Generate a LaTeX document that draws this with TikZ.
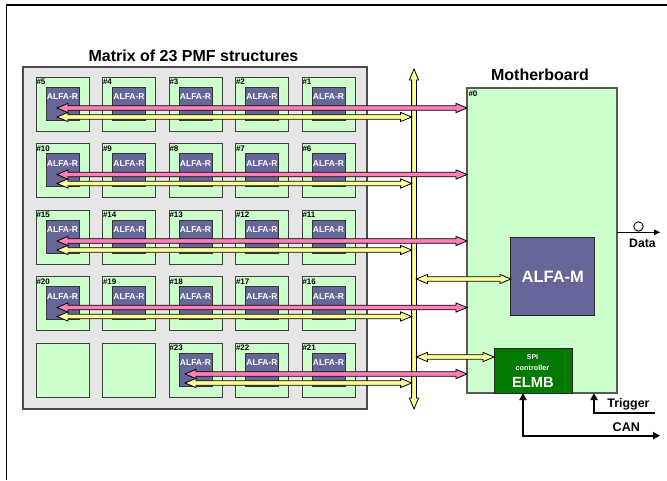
\documentclass[tikz,border=0pt]{standalone}
\usepackage{fontspec}
\setmainfont{Liberation Sans}
\usetikzlibrary{arrows.meta,calc}
\definecolor{pmf}{HTML}{CCFFCC}
\definecolor{alfa}{HTML}{666699}
\definecolor{pinkA}{HTML}{FF80B8}
\definecolor{yelA}{HTML}{FFFF99}
\definecolor{grayBG}{HTML}{E6E6E6}
\definecolor{elmbG}{HTML}{007A00}
\newcommand{\fsz}[1]{\fontsize{#1}{#1}\selectfont\bfseries}
% horizontal double-headed block arrow: #1 left tip, #2 right tip (same y), #3 fill
\newcommand{\hblock}[3]{%
  \draw[blockline, fill=#3] let \p1=(#1), \p2=(#2) in
  (\x1,\y1) -- (\x1+11pt,\y1+4.6pt) -- (\x1+11pt,\y1+2.3pt) -- (\x2-11pt,\y1+2.3pt)
  -- (\x2-11pt,\y1+4.6pt) -- (\x2,\y1) -- (\x2-11pt,\y1-4.6pt) -- (\x2-11pt,\y1-2.3pt)
  -- (\x1+11pt,\y1-2.3pt) -- (\x1+11pt,\y1-4.6pt) -- cycle;}
% vertical double-headed block arrow: #1 top tip, #2 bottom tip, #3 fill
\newcommand{\vblock}[3]{%
  \draw[blockline, fill=#3] let \p1=(#1), \p2=(#2) in
  (\x1,\y1) -- (\x1+4.6pt,\y1-11pt) -- (\x1+2.4pt,\y1-11pt) -- (\x1+2.4pt,\y2+11pt)
  -- (\x1+4.6pt,\y2+11pt) -- (\x1,\y2) -- (\x1-4.6pt,\y2+11pt) -- (\x1-2.4pt,\y2+11pt)
  -- (\x1-2.4pt,\y1-11pt) -- (\x1-4.6pt,\y1-11pt) -- cycle;}
\begin{document}
\begin{tikzpicture}[x=1pt,y=-1pt,
  every node/.style={inner sep=0pt, outer sep=0pt},
  cell/.style={draw=black!75, line width=1pt, fill=pmf, minimum width=53pt, minimum height=54pt},
  alfabox/.style={draw=black!80, line width=0.8pt, fill=alfa, minimum width=33pt, minimum height=33pt},
  alfatxt/.style={text=white, font=\fsz{8.5}},
  numlbl/.style={text=black, font=\fsz{8}},
  blockline/.style={draw=black, line width=0.8pt, line join=miter},
  title/.style={font=\fsz{16}},
  sig/.style={draw=black, line width=2pt, -{Triangle[length=7pt,width=7pt]}},
]
\useasboundingbox (0,0) rectangle (667,480);
% frame
\draw[line width=1.3pt] (667,5) -- (6.5,5) -- (6.5,480);
% titles
\node[title] (mtitle) at (193.5,55.5) {Matrix of 23 PMF structures};
\node[title] (mbtitle) at (540,75) {Motherboard};
% matrix background
\node[draw=black!70, line width=1.2pt, fill=grayBG, minimum width=344pt, minimum height=342pt] (matrix) at (195,238) {};
% cells
\foreach \r in {1,...,5}{
  \foreach \c in {1,...,5}{
    \pgfmathtruncatemacro\n{5*\r-\c+1}
    \pgfmathsetmacro\cx{62.5+66.5*(\c-1)}
    \pgfmathsetmacro\cy{104+66.5*(\r-1)}
    \node[cell] (c\r\c) at (\cx,\cy) {};
    \ifnum\n<24
      \node[alfabox] (a\r\c) at (\cx,\cy-0.5) {};
      \node[alfatxt] at ($(a\r\c.north)+(0,10)$) {ALFA-R};
      \node[numlbl, anchor=west] at ($(c\r\c.north west)+(0.5,4.8)$) {\#\n};
    \fi
  }
}
% motherboard
\node[draw=black!65, line width=1.2pt, fill=pmf, minimum width=150pt, minimum height=305pt] (mb) at (542,240.5) {};
\node[numlbl, anchor=west] at ($(mb.north west)+(1.5,6)$) {\#0};
\node[draw=black!85, line width=1pt, fill=alfa, minimum width=83.7pt, minimum height=78pt] (alfam) at (552.8,276.7) {};
\node[text=white, font=\fsz{16.5}] at (alfam.center) {ALFA-M};
\node[draw=black!85, line width=1pt, fill=elmbG, minimum width=78pt, minimum height=45pt] (elmb) at (533,370.5) {};
\node[text=white, font=\fsz{7}] at (532.5,356.7) {SPI};
\node[text=white, font=\fsz{7.3}] at (532.5,367.7) {controller};
\node[text=white, font=\fsz{14.7}] at (533,382.7) {ELMB};
% bus
\coordinate (busT) at (414,69);
\coordinate (busB) at (414,409);
\coordinate (busL) at (411.6,0);
\coordinate (busR) at (416.4,0);
\vblock{busT}{busB}{yelA}
% row arrows
\foreach \r in {1,...,5}{
  \pgfmathsetmacro\py{108+66.5*(\r-1)}
  \pgfmathsetmacro\yy{117+66.5*(\r-1)}
  \ifnum\r=5 \def\lx{185}\else\def\lx{57}\fi
  \coordinate (pl\r) at (\lx,\py);
  \coordinate (yl\r) at (\lx,\yy);
  \hblock{yl\r}{busL |- yl\r}{yelA}
  \hblock{pl\r}{mb.west |- pl\r}{pinkA}
}
% bus to ALFA-M and ELMB
\coordinate (ym) at (0,279);
\coordinate (ye) at (0,357);
\hblock{busR |- ym}{alfam.west |- ym}{yelA}
\hblock{busR |- ye}{elmb.west |- ye}{yelA}
% Data output
\coordinate (dataEnd) at (660,232.3);
\draw[line width=1pt, -{Triangle[length=6pt,width=5.5pt]}] (mb.east |- dataEnd) -- (dataEnd);
\node[circle, draw=black, line width=0.9pt, fill=white, minimum size=9.5pt] (dcirc) at (638.5,226.5) {};
\node[font=\fsz{12.3}] (datal) at (642.5,243.3) {Data};
% Trigger
\coordinate (trigStart) at (655,412.7);
\coordinate (trigIn) at ($(mb.south west)+(127,0)$);
\draw[sig] (trigStart) -| (trigIn);
\node[font=\fsz{12.4}] (trigl) at (628.5,404) {Trigger};
% CAN
\coordinate (canTop) at ($(elmb.south)+(-10,0)$);
\coordinate (canEnd) at (660,435.7);
\draw[line width=2pt, {Triangle[length=7pt,width=7pt]}-{Triangle[length=7pt,width=7pt]}] (canTop) |- (canEnd);
\node[font=\fsz{12.6}] (canl) at (626.3,427) {CAN};
\end{tikzpicture}
\end{document}
